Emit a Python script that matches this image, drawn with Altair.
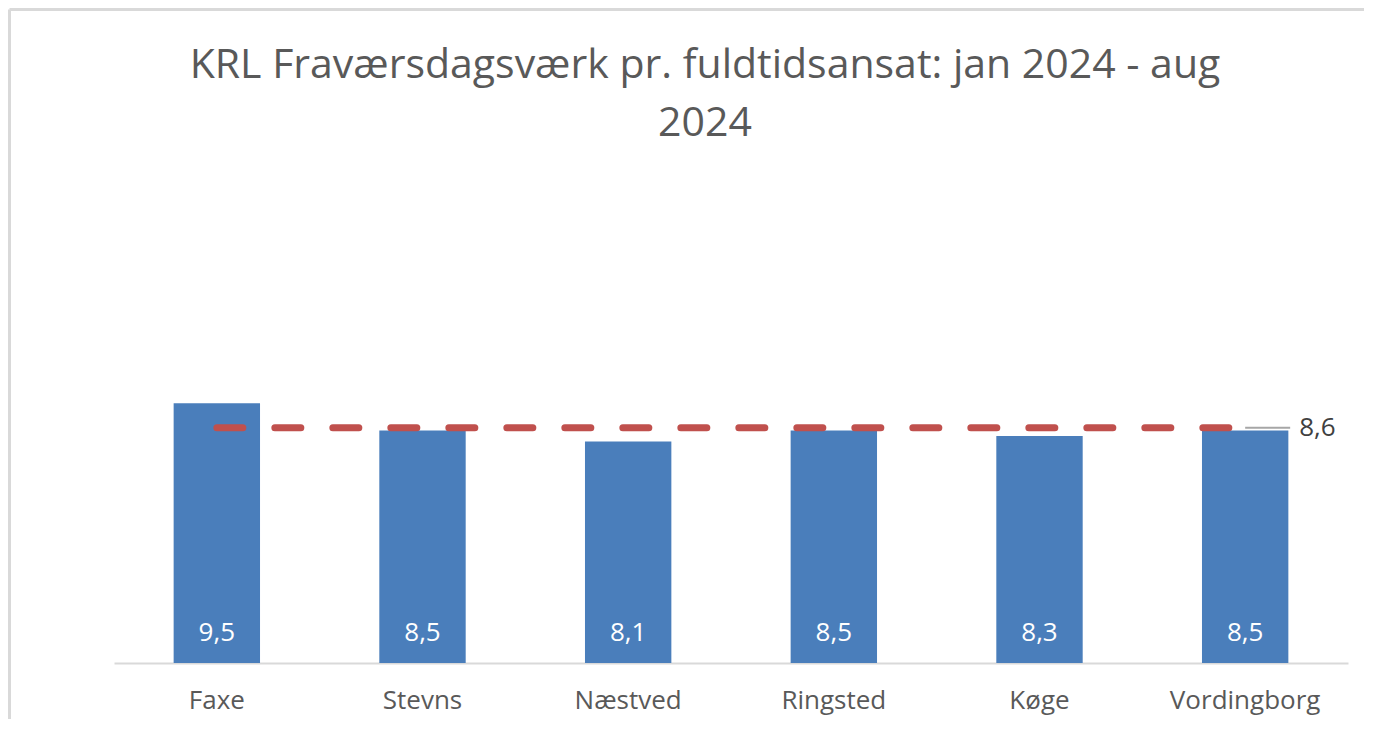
import altair as alt
import pandas as pd

categories = ["Faxe", "Stevns", "Næstved", "Ringsted", "Køge", "Vordingborg"]
values = [9.5, 8.5, 8.1, 8.5, 8.3, 8.5]
average = 8.6
title_lines = ["KRL Fraværsdagsværk pr. fuldtidsansat: jan 2024 - aug", "2024"]

df = pd.DataFrame({
    "kommune": categories,
    "value": values,
    "label": [f"{v:.1f}".replace(".", ",") for v in values],
    "avg": [average] * len(categories),
    "zero": [0] * len(categories),
})

FONT = "Open Sans"
BLUE = "#4a7ebb"
RED = "#c0504d"
GREY = "#a6a6a6"
FRAME = "#d9d9d9"

Y_MAX = 18.5
W = 1234
H = 506
FRAME_Y = -147.5

xscale = alt.Scale(domain=categories, paddingInner=0.58, paddingOuter=0.29)
yscale = alt.Scale(domain=[0, Y_MAX], nice=False, zero=True)

base = alt.Chart(df)

bars = base.mark_bar(color=BLUE).encode(
    x=alt.X("kommune:N", scale=xscale, sort=categories, title=None,
            axis=alt.Axis(labelAngle=0, labelFont=FONT, labelFontSize=26,
                          labelColor="#595959", labelPadding=24, ticks=False,
                          domainColor="#d9d9d9", domainWidth=2, grid=False)),
    y=alt.Y("value:Q", scale=yscale, axis=None),
)

bar_labels = base.mark_text(color="white", font=FONT, fontSize=26,
                            baseline="middle", dy=-30).encode(
    x=alt.X("kommune:N", scale=xscale, sort=categories),
    y=alt.Y("zero:Q", scale=yscale),
    text="label:N",
)

avg_line = base.mark_line(color=RED, strokeWidth=7, strokeDash=[26, 32],
                          strokeCap="round").encode(
    x=alt.X("kommune:N", scale=xscale, sort=categories),
    y=alt.Y("avg:Q", scale=yscale),
)

avg_df = pd.DataFrame({"kommune": [categories[-1]], "avg": [average],
                       "label": [f"{average:.1f}".replace(".", ",")]})
avg_base = alt.Chart(avg_df)

leader = avg_base.mark_rule(color=GREY, strokeWidth=2, x2Offset=45).encode(
    x=alt.X("kommune:N", scale=xscale, sort=categories),
    x2="kommune:N",
    y=alt.Y("avg:Q", scale=yscale),
)

avg_text = avg_base.mark_text(color="#404040", font=FONT, fontSize=26,
                              align="left", baseline="middle", dx=54).encode(
    x=alt.X("kommune:N", scale=xscale, sort=categories),
    y=alt.Y("avg:Q", scale=yscale),
    text="label:N",
)

# chart-area frame (top and left edges, as in the reference screenshot)
frame_top = avg_base.mark_rule(color=FRAME, strokeWidth=3).encode(
    x=alt.value(-104.5), x2=alt.value(W + 16), y=alt.value(FRAME_Y)
)
frame_left = avg_base.mark_rule(color=FRAME, strokeWidth=3).encode(
    x=alt.value(-104.5), y=alt.value(FRAME_Y), y2=alt.value(H + 56)
)

chart = alt.layer(frame_top, frame_left, bars, bar_labels, avg_line, leader,
                  avg_text).properties(
    width=W,
    height=H,
    padding={"left": 0, "top": 0, "right": 0, "bottom": 2},
    title=alt.TitleParams(text=title_lines, font=FONT, fontSize=41,
                          fontWeight="normal", color="#595959",
                          lineHeight=58, anchor="middle", offset=-137,
                          frame="group", dx=-26),
).configure(background="white").configure_view(stroke=None)

chart.save("out.html", embed_options={"renderer": "svg", "actions": False})
